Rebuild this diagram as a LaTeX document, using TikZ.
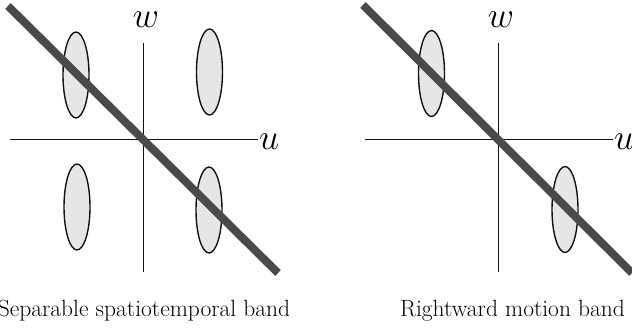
\documentclass[tikz,border=0pt]{standalone}
\usepackage{xcolor,tikz,graphicx}
\usetikzlibrary{shapes.geometric}
\definecolor{ink}{HTML}{111111}
\definecolor{band}{HTML}{4A4A4A}
\definecolor{blob}{HTML}{E6E6E6}
\newcommand{\capt}{\fontsize{23.5}{28}\selectfont}
\newcommand{\axl}[1]{\fontsize{24.88}{28}\selectfont\scalebox{1.45}{$#1$}}
\tikzset{
  lobe/.style={ellipse,draw=ink,fill=blob,line width=1.4pt,minimum width=26,minimum height=86,inner sep=0},
  axis/.style={ink,line width=1pt},
  pass/.style={band,line width=8pt},
}

\begin{document}
\begin{tikzpicture}[x=1pt,y=1pt]
\useasboundingbox (0,0) rectangle (632,334);
% left panel: separable
\node[lobe] (lul) at (76,259) {};
\node[lobe] (lur) at (209.5,262) {};
\node[lobe] (lll) at (77,127) {};
\node[lobe] (llr) at (209,124) {};
\coordinate (lw0) at (143,62); \coordinate (lw1) at (143,291);
\coordinate (lu0) at (10,194); \coordinate (lu1) at (258,194);
\draw[axis] (lw0) -- (lw1);
\draw[axis] (lu0) -- (lu1);
\node[anchor=base west,inner sep=0] (lu) at (259,184) {\axl{u}};
\node[anchor=base,inner sep=0] (lw) at (146,306) {\axl{w}};
\coordinate (lb0) at (8,328); \coordinate (lb1) at (278,61);
\draw[pass] (lb0) -- (lb1);
\node[anchor=base,inner sep=0] (lcap) at (144,17) {\capt Separable spatiotemporal band};
% right panel: rightward motion
\node[lobe] (rul) at (431.5,260.5) {};
\node[lobe] (rlr) at (565,124.5) {};
\coordinate (rw0) at (498,62); \coordinate (rw1) at (498,291);
\coordinate (ru0) at (365,194); \coordinate (ru1) at (613,194);
\draw[axis] (rw0) -- (rw1);
\draw[axis] (ru0) -- (ru1);
\node[anchor=base west,inner sep=0] (ru) at (614,184) {\axl{u}};
\node[anchor=base,inner sep=0] (rw) at (501,306) {\axl{w}};
\coordinate (rb0) at (363,329); \coordinate (rb1) at (632,61);
\draw[pass] (rb0) -- (rb1);
\node[anchor=base,inner sep=0] (rcap) at (512.5,17) {\capt Rightward motion band};
\end{tikzpicture}
\end{document}
